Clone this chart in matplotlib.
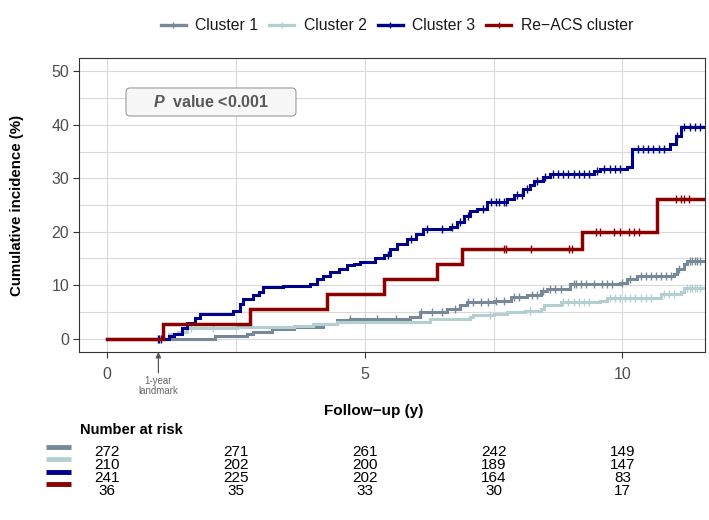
import numpy as np
import matplotlib.pyplot as plt
from matplotlib.lines import Line2D
from matplotlib.patches import FancyBboxPatch

plt.rcParams['font.family'] = ['Liberation Sans', 'DejaVu Sans']
plt.rcParams['mathtext.fontset'] = 'custom'
plt.rcParams['mathtext.bfit'] = 'Liberation Sans:italic:bold'

# ---- data ----
labels = ['Cluster 1', 'Cluster 2', 'Cluster 3', 'Re\u2212ACS cluster']
colors = ['#778899', '#B4CFCF', '#00008B', '#8B0000']

# cluster 1
t1 = [0, 1.28, 2.1, 2.71, 2.84, 3.2, 3.62, 4.2, 4.46, 4.72, 5.88, 6.08, 6.6, 6.85, 6.98,
      7.5, 7.83, 8.15, 8.41, 8.54, 8.99, 9.96, 10.09, 10.28, 11.0, 11.06, 11.19, 11.26, 11.58]
v1 = [0, 0, 0.4, 0.9, 1.3, 1.8, 2.25, 2.75, 3.4, 3.7, 4.0, 4.9, 5.6, 6.2, 6.8,
      7.1, 7.7, 8.2, 8.9, 9.3, 10.2, 10.5, 11.2, 11.8, 12.1, 13.0, 14.0, 14.5, 14.5]
c1 = [4.72, 5.24, 5.6, 6.1, 6.3, 6.5, 6.75, 7.0, 7.1, 7.25, 7.4, 7.55, 7.7, 7.9, 8.0,
      8.25, 8.35, 8.45, 8.6, 8.7, 8.8, 9.05, 9.1, 9.2, 9.3, 9.45, 9.6, 9.7, 9.8, 10.0,
      10.15, 10.35, 10.45, 10.55, 10.65, 10.75, 10.85, 10.95, 11.1, 11.3, 11.35, 11.4, 11.45, 11.5]

# cluster 2
t2 = [0, 1.0, 1.2, 1.38, 1.55, 2.52, 3.62, 4.0, 4.46, 6.27, 7.05, 7.11, 7.5, 7.76, 8.1,
      8.41, 8.47, 8.8, 9.57, 9.7, 10.74, 11.13, 11.19, 11.58]
v2 = [0, 0, 0.8, 1.2, 1.9, 2.25, 2.4, 2.7, 3.05, 3.7, 4.0, 4.4, 4.6, 4.9, 5.2,
      5.6, 6.2, 6.8, 7.1, 7.6, 8.4, 8.7, 9.4, 9.4]
c2 = [1.64, 2.06, 7.44, 8.2, 8.85, 8.95, 9.05, 9.15, 9.25, 9.35, 9.75, 9.85, 9.95, 10.05,
      10.15, 10.25, 10.35, 10.45, 10.55, 10.8, 10.9, 11.0, 11.25, 11.3, 11.35, 11.4, 11.45, 11.5]

# cluster 3
t3 = [0, 1.0, 1.2, 1.3, 1.45, 1.55, 1.7, 1.81, 2.45, 2.58, 2.64, 2.83, 2.95, 3.03, 3.42,
      3.94, 4.08, 4.2, 4.33, 4.5, 4.66, 4.8, 4.91, 5.2, 5.37, 5.5, 5.63, 5.82, 6.0, 6.14,
      6.66, 6.79, 6.92, 7.05, 7.18, 7.37, 7.76, 7.89, 8.08, 8.2, 8.28, 8.45, 8.6, 9.44,
      9.57, 10.09, 10.19, 10.93, 11.03, 11.13, 11.58]
v3 = [0, 0, 0.4, 0.9, 2.0, 3.0, 3.8, 4.7, 5.2, 6.5, 7.5, 8.1, 8.8, 9.6, 9.9,
      10.3, 11.2, 11.8, 12.4, 13.0, 13.7, 14.0, 14.4, 15.0, 15.7, 16.7, 17.7, 18.7, 19.6, 20.5,
      20.8, 21.8, 23.0, 23.8, 24.3, 25.5, 26.2, 26.8, 28.0, 28.8, 29.4, 30.2, 30.8, 31.3,
      31.8, 32.2, 35.5, 36.5, 38.0, 39.6, 39.6]
c3 = [1.0, 1.02, 1.05, 5.45, 5.9, 6.2, 6.5, 6.7, 6.85, 7.0, 7.3, 7.45, 7.55, 7.6, 7.7,
      7.75, 7.95, 8.05, 8.15, 8.35, 8.5, 8.65, 8.75, 8.85, 8.95, 9.05, 9.15, 9.25, 9.35,
      9.5, 9.65, 9.75, 9.85, 9.95, 10.3, 10.4, 10.5, 10.6, 10.7, 10.8, 11.05, 11.2, 11.3,
      11.4, 11.5]

# re-ACS cluster
t4 = [0, 1.08, 2.78, 4.27, 5.37, 6.41, 6.89, 9.22, 10.67, 11.58]
v4 = [0, 2.8, 5.6, 8.3, 11.1, 13.9, 16.7, 20.0, 26.2, 26.2]
c4 = [7.70, 7.74, 8.22, 8.96, 9.02, 9.48, 9.57, 9.83, 9.96, 10.12, 10.22, 10.32,
      11.03, 11.13, 11.19, 11.29]

risk_times = [0, 2.5, 5, 7.5, 10]
risk1 = [272, 271, 261, 242, 149]
risk2 = [210, 202, 200, 189, 147]
risk3 = [241, 225, 202, 164, 83]
risk4 = [36, 35, 33, 30, 17]

curves = [(t1, v1, c1), (t2, v2, c2), (t3, v3, c3), (t4, v4, c4)]
risks = [risk1, risk2, risk3, risk4]


def step_at(t, v, x):
    idx = np.searchsorted(t, x, side='right') - 1
    return np.asarray(v)[idx]


W, H = 709, 520
fig = plt.figure(figsize=(W / 100, H / 100), dpi=100)
ax = fig.add_axes([79 / W, 1 - 352 / H, (705 - 79) / W, (352 - 58) / H])

for (t, v, cens), col in zip(curves, colors):
    lw = 2.5 if col == '#8B0000' else 2.2
    ax.step(t, v, where='post', color=col, lw=lw, solid_joinstyle='miter', zorder=3)
    ax.plot(cens, step_at(t, v, cens), ls='none', marker='|', ms=6, mew=1.0,
            color=col, zorder=3)

ax.set_xlim(-0.54, 11.6)
ax.set_ylim(-2.5, 52.5)
ax.set_xticks([0, 5, 10])
ax.set_xticks([2.5, 7.5], minor=True)
ax.set_yticks([0, 10, 20, 30, 40, 50])
ax.set_yticks([5, 15, 25, 35, 45], minor=True)
ax.grid(True, which='both', color='#d9d9d9', lw=0.8, zorder=0)
ax.tick_params(which='minor', length=0)
ax.tick_params(which='major', length=4, width=0.8, color='#333333',
               labelsize=11.5, labelcolor='#4d4d4d', pad=3)
ax.tick_params(axis='x', pad=7)
for s in ax.spines.values():
    s.set_color('#333333')
    s.set_linewidth(0.8)

ax.set_ylabel('Cumulative incidence (%)', fontsize=10.8, fontweight='bold')
ax.yaxis.set_label_coords(-0.088, 0.5)
ax.set_xlabel('Follow\u2212up (y)', fontsize=11, fontweight='bold')
ax.xaxis.set_label_coords((374 - 79) / 626, -0.178)

# p value box
asp = 626 / 294
ax.add_patch(FancyBboxPatch((0.0751, 0.8027), 0.2715, 0.0953,
                            boxstyle='round,pad=0,rounding_size=0.0065',
                            mutation_aspect=asp, transform=ax.transAxes,
                            fc='#f7f7f7', ec='#9a9a9a', lw=0.8, zorder=5))
ax.text(0.2108, 0.8505, r'$\mathbfit{P}$  value <0.001', transform=ax.transAxes,
        ha='center', va='center', fontsize=11.5, fontweight='bold',
        color='#595959', zorder=6)

# landmark annotation
ax.annotate('1-year\nlandmark', xy=(1.0, 0), xycoords=('data', 'axes fraction'),
            xytext=(0, -17), textcoords='offset points', ha='center', va='top',
            fontsize=7, color='#666666', linespacing=1.1, annotation_clip=False,
            arrowprops=dict(arrowstyle='-|>', color='#555555', lw=0.9,
                            mutation_scale=8, shrinkA=0, shrinkB=0))

# legend
handles = [Line2D([], [], color=c, lw=2.4, marker='+', ms=5, mew=1.0) for c in colors]
fig.legend(handles, labels, loc='center', bbox_to_anchor=(397 / W, 1 - 26 / H),
           ncol=4, frameon=False, fontsize=11.3, handlelength=1.6,
           handletextpad=0.6, columnspacing=0.7, labelcolor='#1a1a1a')

# number at risk table
axt = fig.add_axes([79 / W, 1 - 495 / H, (705 - 79) / W, 49 / H])
axt.set_xlim(ax.get_xlim())
axt.set_ylim(-0.5, 3.5)
axt.axis('off')
fig.text(80 / W, 1 - 430 / H, 'Number at risk', ha='left', va='center',
         fontsize=10.5, fontweight='bold')
for j, tx in enumerate(risk_times):
    column = '\n'.join(str(row[j]) for row in risks)
    axt.text(tx, 1.4, column, ha='center', va='center', multialignment='center',
             fontsize=11, linespacing=0.9)
for k, col in enumerate(colors):
    y = 3 - k
    axt.plot([-0.0527, -0.0128], [y + 0.4, y + 0.4], color=col, lw=3.5,
             solid_capstyle='butt', transform=axt.get_yaxis_transform(),
             clip_on=False)

fig.savefig('out.png', dpi=100)
